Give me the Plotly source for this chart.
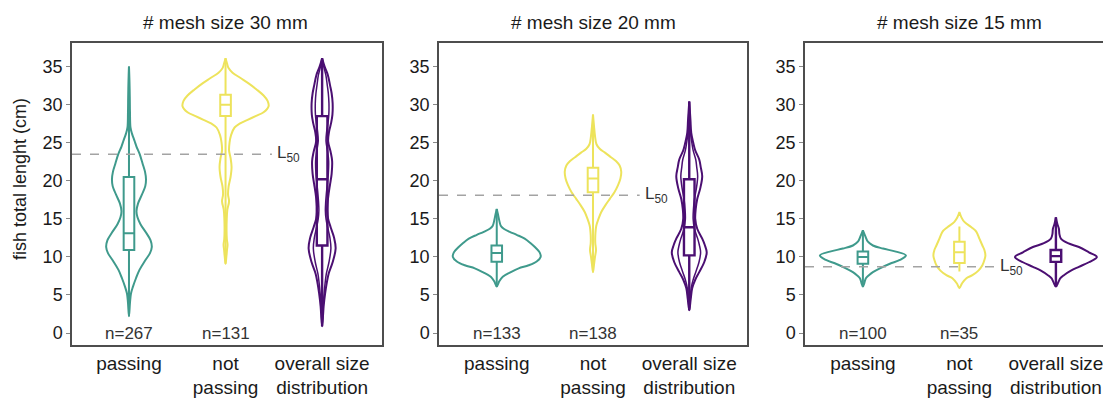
import plotly.graph_objects as go

# ---- data ---------------------------------------------------------------
MESH_TITLES = ["# mesh size 30 mm", "# mesh size 20 mm", "# mesh size 15 mm"]
CATEGORY_TEXT = ["passing", "not<br>passing", "overall size<br>distribution"]
N_COUNTS = [["n=267", "n=131"], ["n=133", "n=138"], ["n=100", "n=35"]]
L50_VALUES = [23.5, 18.1, 8.7]

# violin outlines: fish length (cm) and kernel density (relative half-width)
m30_pass_len = [2.2, 4.0, 5.2, 6.1, 7.2, 8.3, 9.5, 10.5, 11.3, 12.2, 13.2, 14.3, 15.2, 16.0, 17.0, 18.2,
                19.3, 20.2, 21.2, 22.3, 23.5, 24.5, 25.2, 26.2, 27.0, 29.0, 31.0, 33.0, 35.0]
m30_pass_den = [0, 1.0, 2, 4, 7, 10.5, 16, 21, 22.8, 21.5, 17, 11.5, 8.5, 7.5, 9, 13,
                16.3, 17, 16, 13.5, 10.7, 7.5, 5.7, 3, 1.5, 1.0, 0.8, 0.5, 0]
m30_notp_len = [9.1, 10.0, 11.0, 11.6, 12.3, 13.5, 15.0, 16.2, 17.3, 18.2, 19.2, 20.5, 21.8, 23.0, 24.0,
                25.0, 26.0, 27.0, 27.5, 28.0, 28.5, 29.0, 29.8, 30.5, 31.2, 32.0, 32.8, 33.5, 34.2,
                34.8, 35.4, 36.1]
m30_notp_den = [0, 0.8, 1.5, 2.0, 1.3, 1.0, 1.2, 1.8, 3.5, 2.5, 3.0, 5.0, 6.0, 5.0, 3.5,
                4.0, 5.5, 9, 14, 22, 30, 38, 43, 42, 38, 31, 23, 15, 7,
                3, 1.5, 0]
m30_all_len = [0.9, 2.5, 3.5, 5.2, 6.5, 7.8, 9.3, 11.1, 12.5, 13.9, 15.0, 16.1, 17.2, 18.3, 19.6, 20.9,
               22.6, 23.8, 25.2, 26.5, 27.6, 28.7, 30.2, 31.5, 32.5, 33.9, 35.0, 36.1]
m30_all_den = [0, 1.0, 1.5, 3, 4.5, 6.5, 10.5, 13.5, 12, 8.5, 6, 5, 5.5, 6.5, 8, 9.5,
               10, 8.5, 6, 7, 9, 10.3, 10.5, 9.5, 8, 5.7, 2.5, 0]

m20_pass_len = [6.1, 6.8, 7.4, 8.0, 8.5, 8.9, 9.4, 10.0, 10.6, 11.2, 11.8, 12.4, 12.9, 13.3, 13.7,
                14.1, 14.8, 15.6, 16.3]
m20_pass_den = [0, 2.5, 6, 14, 22, 32, 40, 44, 43, 39, 34, 28, 20, 13, 7,
                4, 2.5, 1.2, 0]
m20_notp_len = [8.0, 9.0, 10.0, 10.9, 11.8, 12.8, 14.1, 15.0, 15.9, 16.8, 17.6, 18.5, 19.4, 20.3, 21.2,
                22.0, 22.6, 23.1, 23.7, 24.2, 24.8, 25.9, 27.2, 28.7]
m20_notp_den = [0, 1.0, 2.0, 3.0, 2.3, 2.3, 3.3, 5.5, 8.3, 12.5, 16.7, 21.5, 25, 27.5, 28.3,
                26.7, 23, 18, 12, 6.7, 3.5, 2.0, 1.0, 0]
m20_all_len = [3.0, 4.5, 5.9, 7.0, 8.0, 9.3, 10.6, 11.6, 12.4, 13.7, 15.0, 16.3, 17.6, 19.0, 20.6,
               21.8, 22.8, 24.0, 25.0, 26.3, 28.0, 30.4]
m20_all_den = [0, 1.5, 3, 6, 10, 15, 17.5, 15.5, 13, 8, 6, 6.5, 8, 11, 13,
               11.5, 10, 6, 4, 2, 1.2, 0]

m15_pass_len = [6.1, 6.6, 7.2, 7.6, 8.0, 8.5, 9.1, 9.6, 10.2, 10.7, 11.1, 11.5, 12.0, 12.7, 13.5]
m15_pass_den = [0, 1.5, 3, 6, 10, 17, 27, 37, 43, 33, 20, 10, 5, 2.5, 0]
m15_notp_len = [5.9, 6.5, 7.2, 7.6, 8.2, 8.9, 9.6, 10.2, 10.9, 11.5, 12.4, 13.3, 13.9, 14.6, 15.2, 15.9]
m15_notp_den = [0, 2.5, 7, 13, 19, 23, 25, 26, 25, 23, 20, 17, 12, 5, 2, 0]
m15_all_len = [6.1, 6.7, 7.2, 7.6, 8.2, 8.7, 9.3, 10.0, 10.6, 11.3, 11.8, 12.4, 13.0, 13.7, 14.3, 15.2]
m15_all_den = [0, 2.5, 4.5, 8, 15, 23, 33, 41, 33, 23, 12, 5, 3.5, 3, 1.5, 0]

# box-plot summaries per mesh size: passing, not passing, overall
m30_q1 = [10.9, 28.5, 11.5]
m30_med = [13.1, 30.0, 20.2]
m30_q3 = [20.5, 31.3, 28.5]
m30_lo = [2.2, 9.1, 0.9]
m30_hi = [35.0, 36.1, 36.1]

m20_q1 = [9.35, 18.5, 10.2]
m20_med = [10.5, 20.3, 13.9]
m20_q3 = [11.5, 21.7, 20.2]
m20_lo = [6.1, 8.0, 3.0]
m20_hi = [16.3, 28.7, 30.4]

m15_q1 = [9.1, 9.2, 9.35]
m15_med = [10.0, 10.6, 10.1]
m15_q3 = [10.7, 12.0, 10.9]
m15_lo = [6.2, 8.1, 6.1]
m15_hi = [13.5, 14.0, 15.2]

# ---- styling ------------------------------------------------------------
COLORS = ["#3f9a8c", "#ede35c", "#4b0f72"]
FONT = "Arial, Liberation Sans, sans-serif"
TEXT_COLOR = "#1a1a1a"
AXIS_COLOR = "#4d4d4d"
DENSITY_SCALE = 1 / 96.5       # density -> x-axis units
INNER_FACTOR = 0.65            # inner contour of the overall distribution
BOX_WIDTH = 0.11
L50_LINE_END = [1.48, 1.485, 1.37]
X_RANGES = [[-0.59, 2.62], [-0.60, 2.60], [-0.60, 2.488]]
Y_RANGE = [-1.57, 38.1]

W, H = 1103, 398
M_L, M_R, M_T, M_B = 72, 0, 43, 51
plot_w = W - M_L - M_R
plot_h = H - M_T - M_B
panel_px = [(72, 382), (439, 747), (805, 1103)]
domains = [[(a - M_L) / plot_w, (b - M_L) / plot_w] for a, b in panel_px]


def paper_y(px):
    """Convert a pixel row of the page into paper coordinates."""
    return (H - M_B - px) / plot_h


panels = [
    dict(violins=[(m30_pass_len, m30_pass_den), (m30_notp_len, m30_notp_den), (m30_all_len, m30_all_den)],
         box=(m30_q1, m30_med, m30_q3, m30_lo, m30_hi), inner=True),
    dict(violins=[(m20_pass_len, m20_pass_den), (m20_notp_len, m20_notp_den), (m20_all_len, m20_all_den)],
         box=(m20_q1, m20_med, m20_q3, m20_lo, m20_hi), inner=True),
    dict(violins=[(m15_pass_len, m15_pass_den), (m15_notp_len, m15_notp_den), (m15_all_len, m15_all_den)],
         box=(m15_q1, m15_med, m15_q3, m15_lo, m15_hi), inner=False),
]

fig = go.Figure()


def outline(center, lengths, dens, factor=1.0):
    xs = [center + d * DENSITY_SCALE * factor for d in dens]
    xs += [center - d * DENSITY_SCALE * factor for d in reversed(dens)]
    ys = list(lengths) + list(reversed(lengths))
    return xs, ys


for p, panel in enumerate(panels):
    xa = "x" if p == 0 else f"x{p + 1}"
    ya = "y" if p == 0 else f"y{p + 1}"
    for g, (lengths, dens) in enumerate(panel["violins"]):
        xs, ys = outline(g, lengths, dens)
        fig.add_trace(go.Scatter(x=xs, y=ys, mode="lines", xaxis=xa, yaxis=ya,
                                 line=dict(color=COLORS[g], width=2, shape="spline", smoothing=1.0),
                                 hoverinfo="skip", showlegend=False))
        if g == 2 and panel["inner"]:
            xs, ys = outline(g, lengths, dens, INNER_FACTOR)
            fig.add_trace(go.Scatter(x=xs, y=ys, mode="lines", xaxis=xa, yaxis=ya,
                                     line=dict(color=COLORS[g], width=1.5, shape="spline", smoothing=1.0),
                                     hoverinfo="skip", showlegend=False))
    q1, med, q3, lo, hi = panel["box"]
    for g in range(3):
        fig.add_trace(go.Box(x=[g], q1=[q1[g]], median=[med[g]], q3=[q3[g]],
                             lowerfence=[lo[g]], upperfence=[hi[g]],
                             width=BOX_WIDTH, whiskerwidth=0, boxpoints=False,
                             fillcolor="rgba(0,0,0,0)",
                             line=dict(color=COLORS[g], width=2.4 if g == 2 else 2),
                             xaxis=xa, yaxis=ya, showlegend=False, hoverinfo="skip"))

    # L50 reference line and label
    fig.add_shape(type="line", xref=xa, yref=ya, x0=X_RANGES[p][0], x1=L50_LINE_END[p],
                  y0=L50_VALUES[p], y1=L50_VALUES[p],
                  line=dict(color="#a3a3a3", width=1.5, dash="dash"))
    fig.add_annotation(xref=xa, yref=ya, x=L50_LINE_END[p] + 0.03, y=L50_VALUES[p],
                       text="L<sub>50</sub>", showarrow=False, xanchor="left", yanchor="middle",
                       font=dict(family=FONT, size=17, color="#333333"))

    # sample sizes
    for g, txt in enumerate(N_COUNTS[p]):
        fig.add_annotation(xref=xa, yref=ya, x=g, y=0, text=txt, showarrow=False,
                           xanchor="center", yanchor="middle",
                           font=dict(family=FONT, size=17, color="#333333"))

    # panel title
    fig.add_annotation(xref=xa, yref="paper", x=1, y=paper_y(22),
                       text=MESH_TITLES[p], showarrow=False, xanchor="center", yanchor="middle",
                       font=dict(family=FONT, size=19, color=TEXT_COLOR))

    axis_common = dict(showline=True, linecolor=AXIS_COLOR, linewidth=1.5,
                       showgrid=False, zeroline=False)
    fig.update_layout(**{
        ("xaxis" if p == 0 else f"xaxis{p + 1}"): dict(
            domain=domains[p], range=X_RANGES[p], anchor=ya, mirror=True,
            tickmode="array", tickvals=[0, 1, 2], ticktext=CATEGORY_TEXT, ticks="",
            ticklabeloverflow="allow",
            tickfont=dict(family=FONT, size=19, color=TEXT_COLOR), **axis_common),
        ("yaxis" if p == 0 else f"yaxis{p + 1}"): dict(
            domain=[0, 1], range=Y_RANGE, anchor=xa, mirror=(p < 2),
            tickmode="array", tickvals=[0, 5, 10, 15, 20, 25, 30, 35],
            ticks="outside", ticklen=4, tickcolor="#888888", tickwidth=1,
            tickfont=dict(family=FONT, size=18, color=TEXT_COLOR), **axis_common),
    })

fig.add_annotation(xref="paper", yref="paper", x=(20 - M_L) / plot_w, y=paper_y(180),
                   text="fish total lenght (cm)", textangle=-90, showarrow=False,
                   xanchor="center", yanchor="middle",
                   font=dict(family=FONT, size=18, color=TEXT_COLOR))

fig.update_layout(width=W, height=H, margin=dict(l=M_L, r=M_R, t=M_T, b=M_B),
                  paper_bgcolor="white", plot_bgcolor="white", showlegend=False)

fig.write_html("out.html")
